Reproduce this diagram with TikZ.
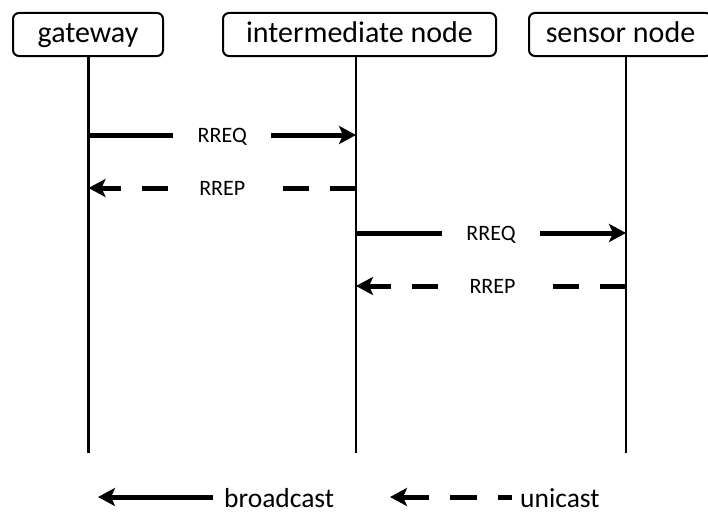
\documentclass[tikz,border=0pt]{standalone}
\usepackage{fontspec}
\setmainfont{Carlito}
\usetikzlibrary{arrows.meta}
\begin{document}
\begin{tikzpicture}[x=1pt,y=-1pt,
  actor/.style={draw,line width=2pt,rounded corners=6pt,minimum height=43pt,
    inner sep=0pt,font=\fontsize{30}{36}\selectfont,text height=22pt,text depth=7pt},
  lifeline/.style={line width=2.2pt},
  msg/.style={line width=5pt,-{Stealth[length=17pt,width=18pt,inset=4pt]}},
  reply/.style={msg,dash pattern=on 26pt off 21pt},
  msglabel/.style={fill=white,inner sep=0pt,minimum height=20pt,
    font=\fontsize{22}{26}\selectfont,text height=14pt,text depth=0pt},
  legendtext/.style={inner sep=0pt,anchor=base west,text depth=0pt,
    font=\fontsize{27.5}{33}\selectfont}
]
\useasboundingbox (0,0) rectangle (708,511);

% participants
\node[actor,minimum width=150pt] (gw) at (88,34.5) {gateway};
\node[actor,minimum width=273pt] (im) at (359.5,34.5) {intermediate node};
\node[actor,minimum width=183pt] (sn) at (620.5,34.5) {sensor node};

% lifelines
\coordinate (gwEnd) at (88.5,453);
\coordinate (imEnd) at (356,453);
\coordinate (snEnd) at (626,453);
\draw[lifeline] (gw.south -| gwEnd) -- (gwEnd);
\draw[lifeline] (im.south -| imEnd) -- (imEnd);
\draw[lifeline] (sn.south -| snEnd) -- (snEnd);

% message end points on the lifelines
\coordinate (m1a) at (88.5,135);  \coordinate (m1b) at (356,135);
\coordinate (m2a) at (356,188);   \coordinate (m2b) at (88.5,188);
\coordinate (m3a) at (356,233);   \coordinate (m3b) at (626,233);
\coordinate (m4a) at (626,286);   \coordinate (m4b) at (356,286);

% route request / route reply
\draw[msg] (m1a) -- (m1b) node[msglabel,midway,minimum width=98pt] (l1) {RREQ};
\draw[reply] (m2a) -- (m2b) node[msglabel,midway,xshift=3pt,minimum width=115pt] (l2) {RREP\hspace*{6pt}};
\draw[msg] (m3a) -- (m3b) node[msglabel,midway,minimum width=98pt] (l3) {RREQ};
\draw[reply] (m4a) -- (m4b) node[msglabel,midway,xshift=4.5pt,minimum width=115pt] (l4) {RREP\hspace*{6pt}};

% legend
\node[legendtext] (bc) at (224,507) {broadcast};
\coordinate (bcTail) at (213,497);
\coordinate (bcTip) at (98,497);
\draw[msg] (bcTail) -- (bcTip);

\node[legendtext] (uc) at (520,507) {unicast};
\coordinate (ucTail) at (512,497);
\coordinate (ucTip) at (390,497);
\draw[msg,dash pattern=on 27pt off 21pt,dash phase=13pt] (ucTail) -- (ucTip);
\end{tikzpicture}
\end{document}
